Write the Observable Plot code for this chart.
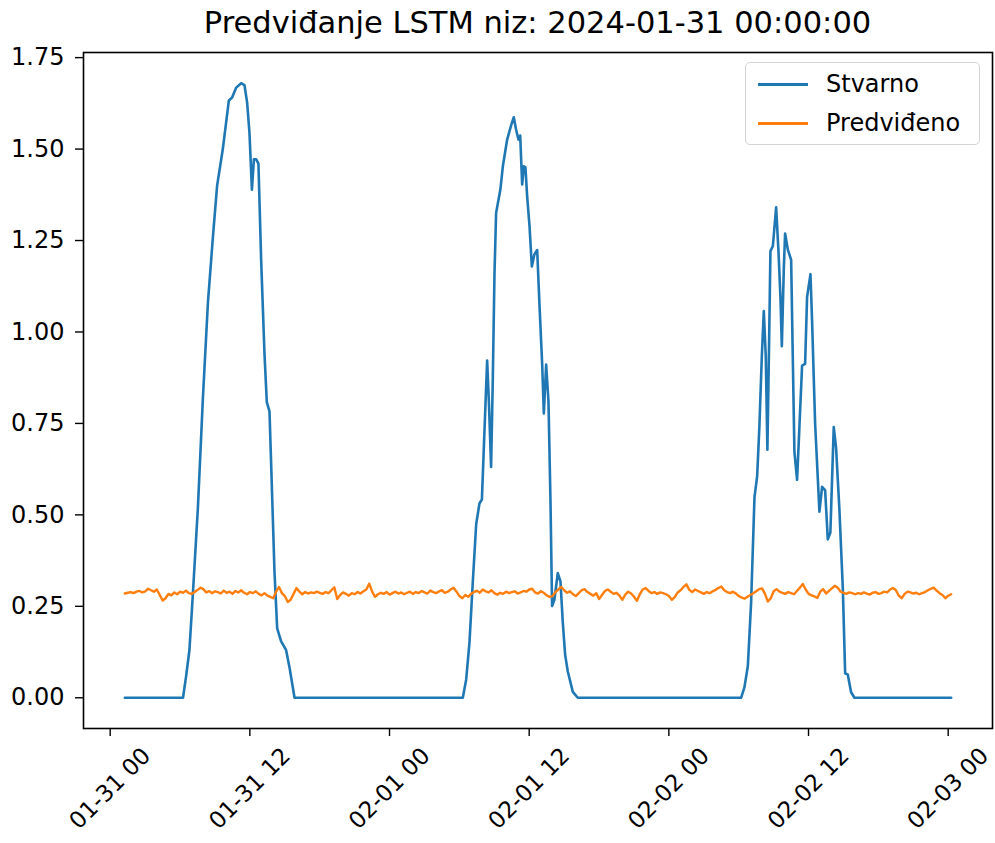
<!DOCTYPE html>
<html>
<head>
<meta charset="utf-8">
<script src="https://cdn.jsdelivr.net/npm/d3@7"></script>
<script src="https://cdn.jsdelivr.net/npm/@observablehq/plot@0.6"></script>
<style>
  body { margin: 0; background: #fff; font-family: "DejaVu Sans", sans-serif; }
  #wrap { position: relative; width: 995px; height: 843px; overflow: hidden; }
  #title { position: absolute; left: 83px; width: 909px; top: 0; height: 46px; line-height: 46px;
           text-align: center; font-size: 30.5px; color: #000; white-space: nowrap; z-index: 2; }
  #chart { position: absolute; left: 0; top: 44px; }
  #legend { position: absolute; left: 745px; top: 62px; width: 235px; height: 83px; box-sizing: border-box;
            border: 1.5px solid #d3d3d3; border-radius: 5px; background: rgba(255,255,255,0.8); z-index: 2; }
  .sw { position: absolute; left: 758px; width: 50px; height: 3px; z-index: 3; }
  .lt { position: absolute; left: 826px; font-size: 24px; line-height: 30px; height: 30px; color: #000; z-index: 3; white-space: nowrap; }
</style>
</head>
<body>
<div id="wrap">
  <div id="title"></div>
  <div id="chart"></div>
  <div id="legend"></div>
  <div class="sw" id="sw0" style="top:83px"></div>
  <div class="lt" id="lt0" style="top:69px"></div>
  <div class="sw" id="sw1" style="top:122px"></div>
  <div class="lt" id="lt1" style="top:108px"></div>
</div>
<script>
// ---- Data ----
const titleText = "Predviđanje LSTM niz: 2024-01-31 00:00:00";
const seriesNames = ["Stvarno", "Predviđeno"];
const seriesColors = ["#1f77b4", "#ff7f0e"];
const startUTC = Date.UTC(2024, 0, 31, 0, 0, 0);

// Actual series: hours since 2024-01-31 00:00 and values
const stvarnoHours = [
  1, 6.0, 6.27, 6.55, 6.85, 7.28, 7.71, 8.14, 8.57, 8.93, 9.42, 9.94, 10.22, 10.57, 11.0, 11.28, 11.51,
  11.71, 11.92, 12.09, 12.29, 12.48, 12.71, 13.0, 13.2, 13.43, 13.63, 13.86, 14.09, 14.43, 14.86, 15.15, 15.58,
  30.04, 30.33, 30.61, 30.9, 31.19, 31.47, 31.68, 31.85, 32.13, 32.28, 32.47, 32.62, 32.76, 32.9, 33.27,
  33.48, 33.85, 34.19, 34.42, 34.62, 34.82, 34.97, 35.14, 35.28, 35.42, 35.57, 35.77, 35.97, 36.19, 36.43,
  36.62, 36.86, 37.0, 37.2, 37.4, 37.57, 37.71, 37.91, 38.2, 38.43, 38.63, 38.83, 39.06, 39.49, 39.92,
  53.95, 54.24, 54.53, 54.81, 55.1, 55.33, 55.52, 55.73, 55.9, 56.07, 56.21, 56.36, 56.47, 56.68, 56.96,
  57.16, 57.33, 57.45, 57.62, 57.73, 57.96, 58.25, 58.39, 58.53, 58.76, 58.96, 59.19, 59.45, 59.62, 59.91,
  60.05, 60.31, 60.68, 60.91, 61.17, 61.4, 61.62, 61.91, 62.11, 62.39, 62.69, 62.89, 63.12, 63.4, 63.69, 72
];
const stvarnoValues = [
  0, 0, 0.06, 0.13, 0.285, 0.52, 0.82, 1.08, 1.26, 1.40, 1.50, 1.633, 1.641, 1.668, 1.68, 1.675, 1.627,
  1.544, 1.389, 1.472, 1.472, 1.46, 1.20, 0.94, 0.808, 0.783, 0.58, 0.344, 0.19, 0.154, 0.13, 0.083, 0,
  0, 0.05, 0.15, 0.318, 0.475, 0.531, 0.542, 0.687, 0.922, 0.81, 0.631, 0.877, 1.157, 1.325, 1.39,
  1.453, 1.526, 1.565, 1.587, 1.553, 1.526, 1.537, 1.403, 1.453, 1.45, 1.37, 1.29, 1.179, 1.212, 1.224,
  1.079, 0.911, 0.777, 0.911, 0.81, 0.542, 0.251, 0.268, 0.341, 0.318, 0.206, 0.118, 0.072, 0.016, 0,
  0, 0.029, 0.087, 0.26, 0.548, 0.606, 0.74, 0.933, 1.057, 0.933, 0.678, 0.98, 1.221, 1.235, 1.341,
  1.221, 1.096, 0.961, 1.173, 1.269, 1.226, 1.197, 0.933, 0.673, 0.596, 0.74, 0.908, 0.913, 1.096, 1.158,
  1.029, 0.75, 0.509, 0.577, 0.567, 0.433, 0.452, 0.74, 0.683, 0.519, 0.299, 0.067, 0.063, 0.015, 0, 0
];

// Predicted series: every 15 minutes from 01:00 on 2024-01-31 to 00:00 on 2024-02-03
const predStartHour = 1;
const predStepHours = 0.25;
const predvidjenoValues = [
  0.285,0.287,0.289,0.286,0.290,0.292,0.288,0.291,0.298,0.294,0.290,0.296,
  0.281,0.266,0.272,0.284,0.280,0.288,0.283,0.290,0.287,0.293,0.286,0.284,
  0.289,0.295,0.301,0.297,0.288,0.292,0.286,0.291,0.289,0.285,0.293,0.287,
  0.290,0.284,0.292,0.288,0.294,0.287,0.283,0.289,0.286,0.291,0.284,0.280,
  0.286,0.279,0.276,0.272,0.290,0.303,0.286,0.278,0.262,0.268,0.284,0.300,
  0.290,0.283,0.289,0.285,0.288,0.286,0.290,0.287,0.284,0.289,0.286,0.294,
  0.302,0.270,0.281,0.288,0.284,0.279,0.286,0.283,0.289,0.285,0.291,0.296,
  0.312,0.290,0.276,0.283,0.287,0.284,0.289,0.282,0.286,0.290,0.285,0.288,
  0.283,0.287,0.290,0.284,0.289,0.286,0.292,0.288,0.285,0.293,0.289,0.286,
  0.291,0.294,0.287,0.290,0.296,0.301,0.290,0.278,0.272,0.281,0.276,0.284,
  0.289,0.293,0.287,0.296,0.291,0.288,0.294,0.286,0.282,0.287,0.284,0.290,
  0.286,0.289,0.291,0.285,0.288,0.292,0.290,0.296,0.298,0.288,0.285,0.291,
  0.287,0.280,0.276,0.278,0.289,0.296,0.303,0.294,0.287,0.291,0.283,0.278,
  0.286,0.294,0.297,0.289,0.284,0.279,0.286,0.270,0.281,0.292,0.296,0.290,
  0.284,0.287,0.279,0.268,0.282,0.290,0.285,0.276,0.265,0.283,0.296,0.300,
  0.292,0.286,0.289,0.284,0.288,0.286,0.283,0.278,0.268,0.275,0.288,0.294,
  0.303,0.310,0.295,0.289,0.296,0.292,0.288,0.284,0.289,0.286,0.291,0.295,
  0.300,0.304,0.294,0.289,0.286,0.290,0.285,0.278,0.274,0.271,0.276,0.281,
  0.286,0.291,0.297,0.299,0.284,0.263,0.272,0.291,0.297,0.290,0.287,0.284,
  0.289,0.286,0.283,0.292,0.301,0.311,0.296,0.284,0.280,0.277,0.273,0.290,
  0.297,0.285,0.292,0.299,0.306,0.301,0.290,0.287,0.284,0.288,0.286,0.283,
  0.286,0.284,0.288,0.285,0.282,0.287,0.289,0.284,0.286,0.290,0.288,0.296,
  0.300,0.294,0.279,0.272,0.284,0.290,0.288,0.285,0.287,0.283,0.286,0.289,
  0.294,0.298,0.301,0.293,0.286,0.281,0.272,0.279,0.283
];

// Axis ticks
const yTicks = [0, 0.25, 0.5, 0.75, 1.0, 1.25, 1.5, 1.75];
const xTickHours = [0, 12, 24, 36, 48, 60, 72];

// ---- Build ----
const t = h => new Date(startUTC + h * 3600e3);
const actual = stvarnoHours.map((h, i) => ({date: t(h), value: stvarnoValues[i]}));
const pred = predvidjenoValues.map((v, i) => ({date: t(predStartHour + i * predStepHours), value: v}));

// matplotlib-like 5% margins around the data extent
const xMin = d3.min(stvarnoHours), xMax = d3.max(stvarnoHours);
const xPad = (xMax - xMin) * 0.05;
const yAll = stvarnoValues.concat(predvidjenoValues);
const yMin = d3.min(yAll), yMax = d3.max(yAll);
const yPad = (yMax - yMin) * 0.05;

const chart = Plot.plot({
  width: 995,
  height: 799,
  marginLeft: 83,
  marginRight: 3,
  marginTop: 8,
  marginBottom: 115,
  style: {fontFamily: "DejaVu Sans", fontSize: "24px", color: "#000", background: "transparent", overflow: "visible"},
  x: {type: "utc", domain: [t(xMin - xPad), t(xMax + xPad)]},
  y: {domain: [yMin - yPad, yMax + yPad]},
  marks: [
    Plot.axisY({ticks: yTicks, tickFormat: d3.format(".2f"), tickSize: 8, tickPadding: 11, fontSize: 24, label: null, strokeWidth: 1.4}),
    Plot.axisX({ticks: xTickHours.map(t), tickFormat: d3.utcFormat("%m-%d %H"), tickSize: 8, tickRotate: -45,
                textAnchor: "middle", lineAnchor: "middle", tickPadding: 52, dx: -3, fontSize: 23, label: null, strokeWidth: 1.4}),
    Plot.line(actual, {x: "date", y: "value", stroke: seriesColors[0], strokeWidth: 2.6}),
    Plot.line(pred, {x: "date", y: "value", stroke: seriesColors[1], strokeWidth: 2.4}),
    Plot.frame({stroke: "#000", strokeWidth: 1.6})
  ]
});
document.getElementById("chart").appendChild(chart);
document.getElementById("title").textContent = titleText;
for (let i = 0; i < 2; i++) {
  document.getElementById("sw" + i).style.background = seriesColors[i];
  document.getElementById("lt" + i).textContent = seriesNames[i];
}
</script>
</body>
</html>
